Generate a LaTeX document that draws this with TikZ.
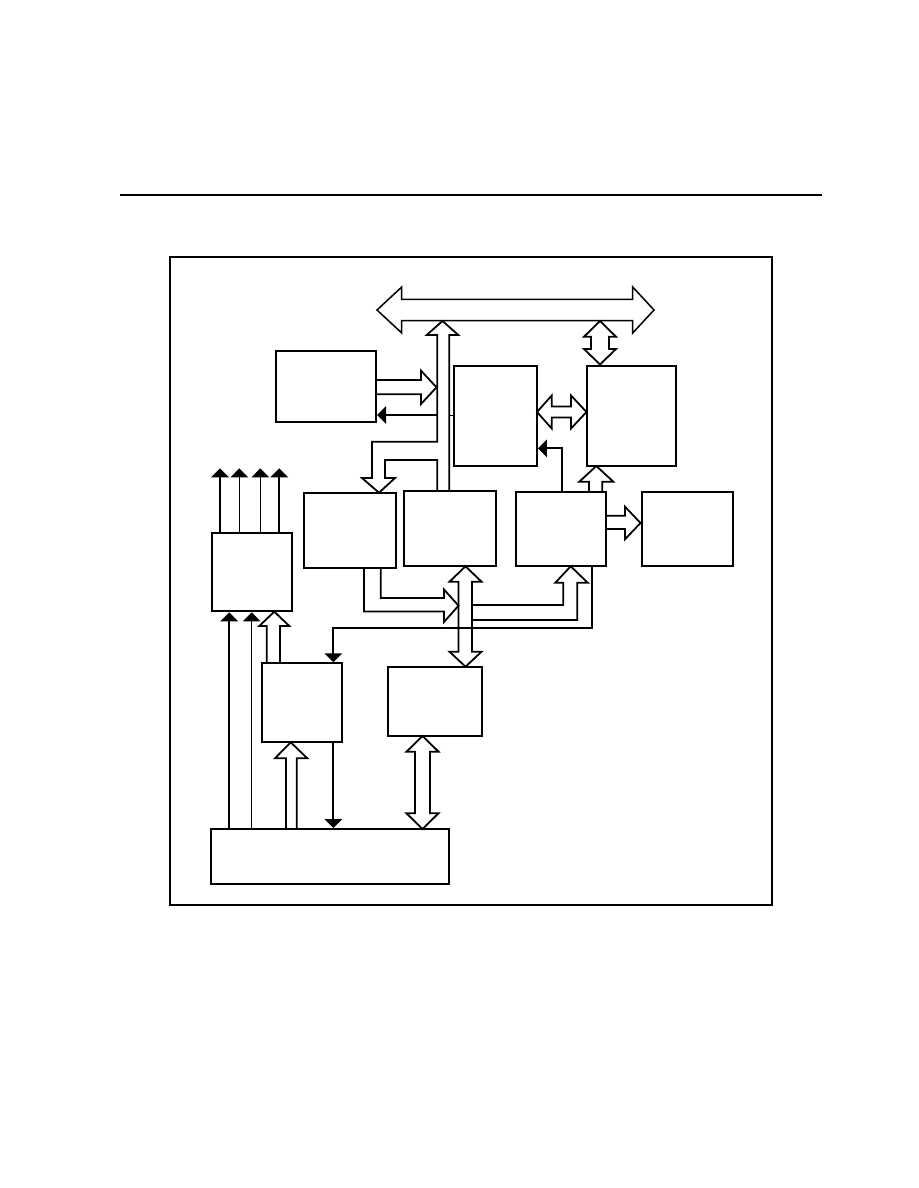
\documentclass[tikz,border=0pt]{standalone}
\usetikzlibrary{arrows.meta}
\begin{document}
\begin{tikzpicture}[x=0.6667pt,y=-0.6667pt,
  box/.style={rectangle,draw,line width=1.3pt,inner sep=0pt},
  hollow/.style={draw,line width=1.2pt,line join=miter},
  sig/.style={line width=1.5pt,-{Triangle[width=11.5pt,length=6pt]}},
  sigthin/.style={line width=0.8pt,-{Triangle[width=11.5pt,length=6pt]}}]

  \useasboundingbox (0,0) rectangle (918,1188);
  \draw[line width=0.7pt] (120,195) -- (822,195);
  \draw[line width=1pt] (170,257) rectangle (772,905);

  \node[box,minimum width=66.7pt,minimum height=47.3pt] (inbox) at (326,386.5) {};
  \node[box,minimum width=55.3pt,minimum height=66.7pt] (proc) at (495.5,415.7) {};
  \node[box,minimum width=59.3pt,minimum height=66.7pt] (xbus) at (631.5,415.7) {};
  \node[box,minimum width=52.9pt,minimum height=52pt] (outbox) at (252,572.3) {};
  \node[box,minimum width=61.1pt,minimum height=50pt] (left) at (349.9,530.2) {};
  \node[box,minimum width=61.1pt,minimum height=50pt] (mid) at (450.2,528.8) {};
  \node[box,minimum width=60pt,minimum height=49.7pt] (right) at (560.7,529) {};
  \node[box,minimum width=61.1pt,minimum height=49.7pt] (far) at (687.5,529) {};
  \node[box,minimum width=53.3pt,minimum height=52.7pt] (ctl) at (301.7,702.8) {};
  \node[box,minimum width=63.1pt,minimum height=46.2pt] (low) at (435,701.3) {};
  \node[box,minimum width=158.9pt,minimum height=36.9pt] (base) at (330.2,856.7) {};

  % system bus
  \draw[hollow,line width=1pt] (377,310) -- (401.7,287) -- (401.7,299.3) -- (632.7,299.3)
    -- (632.7,287) -- (654,310) -- (632.7,333) -- (632.7,320.7) -- (401.7,320.7)
    -- (401.7,333) -- cycle;
  \draw[hollow] (600,321) -- (616,336.7) -- (609,336.7) -- (609,349) -- (616,349)
    -- (600,364.5) -- (584,349) -- (591,349) -- (591,336.7) -- (584,336.7) -- cycle;
  \draw[hollow] (437.3,491.3) -- (437.3,460) -- (385,460) -- (385,478) -- (395,478)
    -- (379,492.7) -- (362,478) -- (372,478) -- (372,441.7) -- (437.3,441.7)
    -- (437.3,335) -- (426.7,335) -- (442.5,321) -- (458.3,335) -- (449.3,335) -- (449.3,491.3);
  \draw[line width=1pt] (449.3,415.7) -- (proc.west);
  \draw[hollow] (inbox.east |- 0,380) -- (421,380) -- (421,370.7) -- (436.5,387.3)
    -- (421,404) -- (421,394.3) -- (inbox.east |- 0,394.3);
  \draw[sig] (437.3,415) -- (inbox.east |- 0,415);

  \draw[hollow] (537,412) -- (551.7,395.5) -- (551.7,406.5) -- (571,406.5) -- (571,395.5)
    -- (586.5,412) -- (571,428.5) -- (571,417.5) -- (551.7,417.5) -- (551.7,428.5) -- cycle;
  \draw[sig] (right.north -| 561.7,0) |- (proc.east |- 0,448.3);
  \draw[hollow] (589,491.7) -- (589,481.7) -- (579.3,481.7) -- (596.3,466) -- (613.3,481.7)
    -- (602.3,481.7) -- (602.3,491.7);
  \draw[hollow] (605.7,515.7) -- (625,515.7) -- (625,506.7) -- (640.5,523) -- (625,539.3)
    -- (625,529) -- (605.7,529);

  % lower part
  \draw[hollow] (465.5,566.3) -- (481.5,581.7) -- (472,581.7) -- (472,651.7) -- (481.5,651.7)
    -- (465.5,666.7) -- (449.5,651.7) -- (458.5,651.7) -- (458.5,581.7) -- (449.5,581.7) -- cycle;
  \draw[hollow] (364,567.7) -- (364,611.5) -- (444,611.5) -- (444,622) -- (458.5,605.7)
    -- (444,589.5) -- (444,598) -- (380.7,598) -- (380.7,567.7);
  \draw[hollow] (472,605) -- (563.3,605) -- (563.3,582.7) -- (555.3,582.7) -- (570.7,566.3)
    -- (587.7,582.7) -- (577.3,582.7) -- (577.3,620) -- (472,620);
  \draw[sig] (right.south -| 592.3,0) |- (333.3,628) -- (ctl.north -| 333.3,0);

  \draw[hollow] (422.5,736) -- (438.5,751.7) -- (430,751.7) -- (430,813.3) -- (438.5,813.3)
    -- (422.5,829) -- (406.5,813.3) -- (415,813.3) -- (415,751.7) -- (406.5,751.7) -- cycle;
  \draw[hollow] (286,829) -- (286,758.3) -- (275,758.3) -- (290.7,742.3) -- (307.3,758.3)
    -- (296.7,758.3) -- (296.7,829);
  \draw[sig] (ctl.south -| 333.3,0) -- (base.north -| 333.3,0);
  \draw[hollow] (266.7,663.3) -- (266.7,626) -- (259.3,626) -- (274.3,611.7) -- (289.3,626)
    -- (280,626) -- (280,663.3);
  \draw[sig] (base.north -| 229.3,0) -- (outbox.south -| 229.3,0);
  \draw[sigthin] (base.north -| 251.7,0) -- (outbox.south -| 251.7,0);

  \foreach \x/\s in {220/sig,239.3/sigthin,260.3/sigthin,279.3/sig}
    \draw[\s] (outbox.north -| \x,0) -- (\x,468.3);
\end{tikzpicture}
\end{document}
